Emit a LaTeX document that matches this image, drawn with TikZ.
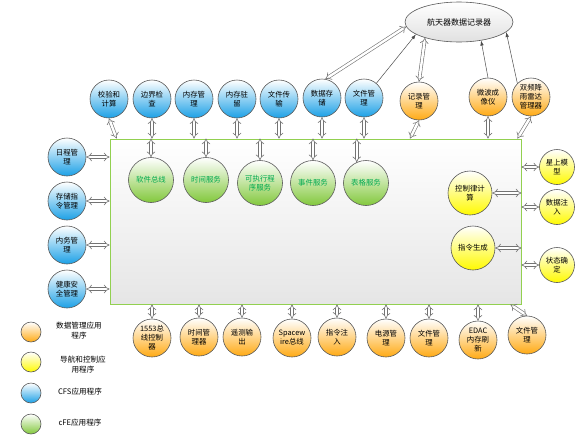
\documentclass[tikz,border=0pt]{standalone}
\usepackage{fontspec}
\setmainfont{Noto Sans CJK SC}
\usepackage{tikz}
\usetikzlibrary{arrows.meta,positioning,calc,shapes.geometric}
\definecolor{cfsblue}{RGB}{28,160,230}
\definecolor{dmorange}{RGB}{255,170,20}
\definecolor{gncyellow}{RGB}{255,250,0}
\definecolor{cfegreen}{RGB}{130,200,60}
\definecolor{cfetext}{RGB}{0,170,80}
\definecolor{boxgreen}{RGB}{146,208,80}
\tikzset{
  app/.style={circle, draw=black!65, line width=0.6pt, minimum size=38pt, inner sep=0pt, align=center, font=\fontsize{7.4}{9}\selectfont},
  cfsapp/.style={app, top color=white, bottom color=cfsblue},
  dmapp/.style={app, top color=white, bottom color=dmorange},
  gncapp/.style={app, top color=white, bottom color=gncyellow},
  cfeapp/.style={app, top color=white, bottom color=cfegreen, minimum size=45pt, text=cfetext},
  recbox/.style={ellipse, draw=black!65, line width=0.6pt, top color=white, bottom color=black!12, minimum width=108pt, minimum height=40pt, inner sep=0pt, font=\fontsize{8}{9}\selectfont},
  legtext/.style={align=center, inner sep=0pt, font=\fontsize{7.6}{10}\selectfont},
  link/.style={draw=black!55, line width=0.6pt, double=white, double distance=2.4pt, {Implies}-{Implies}},
  feed/.style={draw=black!70, line width=0.5pt, -{Latex[length=5pt,width=3.5pt]}}
}
\begin{document}
\begin{tikzpicture}[x=1pt, y=-1pt]
\useasboundingbox (0,0) rectangle (580,445);
\node[draw=boxgreen, line width=0.9pt, top color=white, bottom color=black!10, minimum width=411pt, minimum height=165pt, inner sep=0pt] at (315.5,221.5) (box) {};
\node[recbox] at (459,22) (rec) {航天器数据记录器};

\node[cfsapp] at (109,99) (jyh) {校验和\\计算};
\node[cfsapp] at (152,99) (bjjc) {边界检\\查};
\node[cfsapp] at (194,99) (ncgl) {内存管\\理};
\node[cfsapp] at (237,99) (nczl) {内存驻\\留};
\node[cfsapp] at (279,99) (wjcs) {文件传\\输};
\node[cfsapp] at (322,98) (sjcc) {数据存\\储};
\node[cfsapp] at (364,98) (wjgl) {文件管\\理};
\node[dmapp] at (419,101) (jlgl) {记录管\\理};
\node[dmapp] at (488,97) (wbcx) {微波成\\像仪};
\node[dmapp] at (531,97) (sp) {双频降\\雨雷达\\管理器};

\node[cfsapp] at (67,157) (rcgl) {日程管\\理};
\node[cfsapp] at (67,201) (cczl) {存储指\\令管理};
\node[cfsapp] at (67,245) (nwgl) {内务管\\理};
\node[cfsapp] at (67,289) (jkaq) {健康安\\全管理};

\node[cfeapp] at (151,180) (rjzx) {软件总线};
\node[cfeapp] at (206,180) (sjfw) {时间服务};
\node[cfeapp] at (260,183) (kzx) {可执行程\\序服务};
\node[cfeapp] at (313,183) (shfw) {事件服务};
\node[cfeapp] at (366,183) (bgfw) {表格服务};

\node[gncapp, minimum size=44pt] at (470,193) (kzl) {控制律计\\算};
\node[gncapp, minimum size=44pt] at (473,248) (zlsc) {指令生成};
\node[gncapp, minimum size=35pt] at (557,167) (xsmx) {星上模\\型};
\node[gncapp, minimum size=35pt] at (557,207) (sjzr) {数据注\\入};
\node[gncapp, minimum size=35pt] at (557,265) (ztqd) {状态确\\定};

\node[dmapp] at (152,338) (zx1553) {1553总\\线控制\\器};
\node[dmapp] at (199,337) (sjglq) {时间管\\理器};
\node[dmapp] at (242,337) (ycsc) {遥测输\\出};
\node[dmapp] at (292,338) (spw) {Spacew\\ire总线};
\node[dmapp] at (337,337) (zlzr) {指令注\\入};
\node[dmapp] at (386,338) (dygl) {电源管\\理};
\node[dmapp] at (429,338) (wjgl2) {文件管\\理};
\node[dmapp] at (478,340) (edac) {EDAC\\内存刷\\新};
\node[dmapp] at (527,335) (wjgl3) {文件管\\理};

\node[dmapp, minimum size=20pt] at (31,332) (lg1) {};
\node[gncapp, minimum size=20pt] at (31,362) (lg2) {};
\node[cfsapp, minimum size=20pt] at (31,393) (lg3) {};
\node[cfeapp, minimum size=20pt] at (31,424) (lg4) {};
\node[legtext] at (79,331) (lt1) {数据管理应用\\程序};
\node[legtext] at (83,365) (lt2) {导航和控制应\\用程序};
\node[legtext] at (80,392) (lt3) {CFS应用程序};
\node[legtext] at (80,423) (lt4) {cFE应用程序};

\draw[link] (jyh.south) -- ($(box.north west)+(7,0)$);
\foreach \n in {bjjc,ncgl,nczl,wjcs,sjcc,wjgl,wbcx}
  \draw[link] (\n.south) -- (\n.south |- box.north);
\draw[link] (jlgl.south) -- ($(jlgl.south |- box.north)+(-9,0)$);
\draw[link] (sp.south) -- ($(box.north east)+(-4,0)$);

\foreach \n in {rjzx,sjfw,kzx,shfw}
  \draw[link] (\n.north |- box.north) -- (\n.north);
\draw[link] (bgfw.114 |- box.north) -- (bgfw.114);

\foreach \n in {rcgl,cczl,nwgl,jkaq}
  \draw[link] (\n.east) -- (\n.east -| box.west);
\foreach \n in {kzl,zlsc}
  \draw[link] (\n.east) -- (\n.east -| box.east);
\foreach \n in {xsmx,sjzr,ztqd}
  \draw[link] (\n.west -| box.east) -- (\n.west);

\foreach \n in {zx1553,sjglq,ycsc,spw,zlzr,dygl,wjgl2,edac}
  \draw[link] (\n.north |- box.south) -- (\n.north);
\draw[link] ($(box.south east)+(-11,0)$) -- (wjgl3.north);

\draw[link] (sjcc.80) -- (rec.185);
\draw[feed] (wjgl.50) -- (rec.196);
\draw[link] (jlgl.north) -- (rec.205);
\draw[feed] (wbcx.north) -- (rec.-40);
\draw[feed] (sp.135) -- (rec.-12);
\end{tikzpicture}
\end{document}
